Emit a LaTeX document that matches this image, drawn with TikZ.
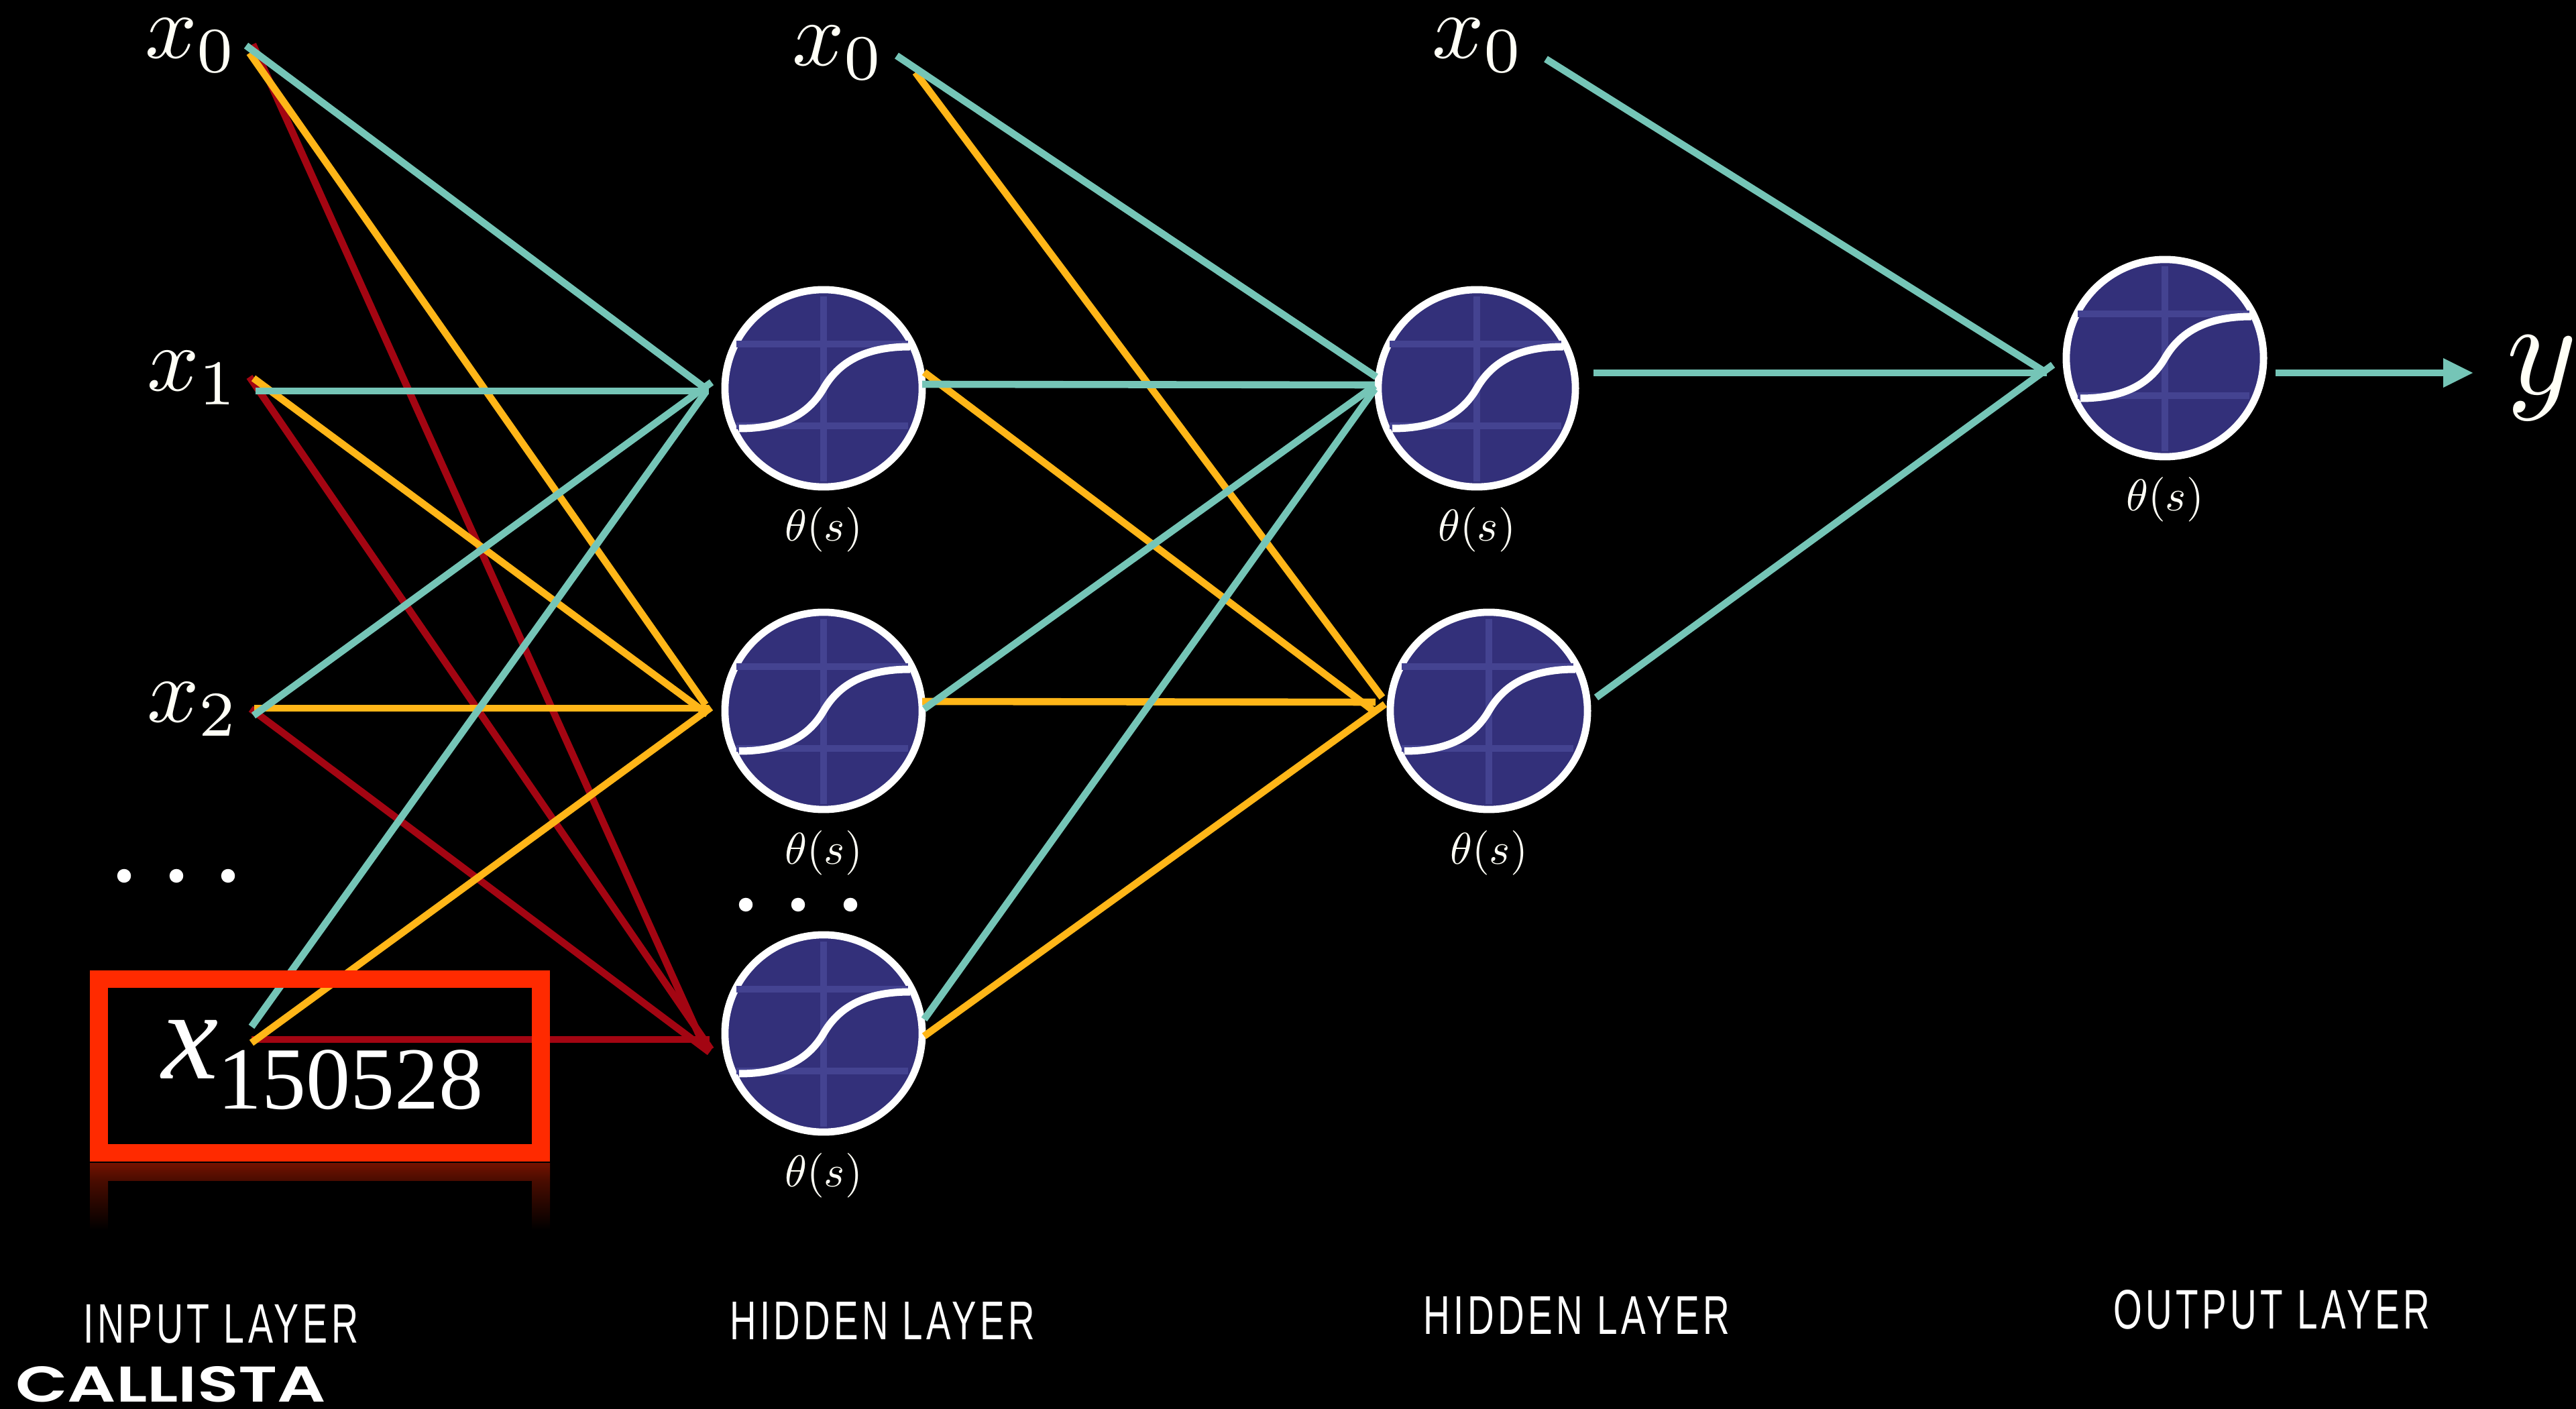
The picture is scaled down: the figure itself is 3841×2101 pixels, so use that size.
\documentclass[tikz,border=0pt]{standalone}
\usepackage{graphicx}
\usepackage[no-math]{fontspec}
\newfontfamily\timesf{Liberation Serif}
\newfontfamily\layerf[LetterSpace=10]{Liberation Sans}
\newfontfamily\brandf{Poppins SemiBold}
\definecolor{teal}{HTML}{75C5B7}
\definecolor{amber}{HTML}{FFB618}
\definecolor{wine}{HTML}{A30512}
\definecolor{boxred}{HTML}{FF2A00}
\definecolor{cellfill}{HTML}{33307A}
\definecolor{cellgrid}{HTML}{444391}
\definecolor{ivory}{HTML}{FFFFF6}
\definecolor{glowa}{HTML}{741200}
\definecolor{glowb}{HTML}{4A0C00}
\tikzset{
  conn/.style={line width=1.06mm},
  tealc/.style={conn,draw=teal},
  amberc/.style={conn,draw=amber},
  winec/.style={conn,draw=wine},
  cell/.style={circle,draw=white,fill=cellfill,line width=1.08mm,minimum size=2.94cm,inner sep=0pt,outer sep=0pt},
  gridl/.style={draw=cellgrid,line width=1.07mm},
  sig/.style={draw=white,line width=1.1mm},
  mathl/.style={text=ivory,inner sep=0pt,outer sep=0pt,anchor=base west},
  thetal/.style={text=ivory,inner sep=0pt,outer sep=0pt,anchor=base},
  layerl/.style={text=white,inner sep=0pt,outer sep=0pt,anchor=south west},
  dotn/.style={circle,fill=white,inner sep=0pt,outer sep=0pt,minimum size=0.205cm},
}
\newcommand{\neuron}[3]{%
  \node[cell] (#1) at (#2,#3) {};
  \begin{scope}[shift={(#2,#3)}]
    \draw[gridl] (-130,-66) -- (126,-66);
    \draw[gridl] (-130,56) -- (126,56);
    \draw[gridl] (0,-137) -- (0,139);
    \draw[sig] (-126,60) .. controls (-60,60) and (-22,38) .. (0,0)
               .. controls (22,-38) and (60,-62) .. (129,-62);
  \end{scope}
  \node[thetal] (#1t) at (#2,#3+228) {\scalebox{1.89}{$\theta(s)$}};
}
\newcommand{\layerlabel}[6]{% name, x, baseline, w, h, text
  \node[layerl] (#1) at (#2,#3) {\resizebox{#4}{#5}{\layerf #6}};
}
\begin{document}
\begin{tikzpicture}[x=0.01cm,y=-0.01cm]
\useasboundingbox (0,0) rectangle (3841,2101);
\fill[black] (0,0) rectangle (3841,2101);

% neurons
\neuron{na}{1228}{579}
\neuron{nb}{1228}{1060}
\neuron{nc}{1228}{1541}
\neuron{ha}{2202}{579}
\neuron{hb}{2220}{1060}
\neuron{oa}{3228}{534}

% connector ends
\coordinate (ix0t) at (367,68);   \coordinate (ix0y) at (372,79);   \coordinate (ix0r) at (377,66);
\coordinate (ix1t) at (381,583);  \coordinate (ix1y) at (378,564);  \coordinate (ix1r) at (372,562);
\coordinate (ix2t) at (378,1067); \coordinate (ix2y) at (379,1056); \coordinate (ix2r) at (374,1057);
\coordinate (ixnt) at (375,1531); \coordinate (ixny) at (375,1555); \coordinate (ixnr) at (375,1550);
\coordinate (nax0t) at (1053,580); \coordinate (nax1t) at (1057,583); \coordinate (nax2t) at (1061,570); \coordinate (naxnt) at (1052,585);
\coordinate (nbx0y) at (1052,1051); \coordinate (nbx1y) at (1055,1065); \coordinate (nbx2y) at (1057,1056); \coordinate (nbxny) at (1060,1055);
\coordinate (ncx0r) at (1052,1565); \coordinate (ncx1r) at (1060,1565); \coordinate (ncx2r) at (1058,1569); \coordinate (ncxnr) at (1058,1550);
\coordinate (mx0t) at (1337,83);  \coordinate (mx0y) at (1365,108);
\coordinate (naot) at (1375,573); \coordinate (naoy) at (1378,555);
\coordinate (nbot) at (1378,1057);\coordinate (nboy) at (1375,1046);
\coordinate (ncot) at (1378,1520);\coordinate (ncoy) at (1378,1545);
\coordinate (hax0) at (2052,562); \coordinate (haa) at (2050,574); \coordinate (hab) at (2050,575); \coordinate (hac) at (2050,580);
\coordinate (hbx0) at (2061,1040);\coordinate (hba) at (2052,1063); \coordinate (hbb) at (2051,1047); \coordinate (hbc) at (2065,1050);
\coordinate (rx0t) at (2305,88);
\coordinate (haot) at (2376,556); \coordinate (hbot) at (2380,1040);
\coordinate (oax0) at (3045,552); \coordinate (oaa) at (3052,556); \coordinate (oab) at (3061,544);
\coordinate (oaot) at (3393,556); \coordinate (oatb) at (3643,556);

% connectors: wine, amber, teal in stacking order
\draw[winec] (ix0r) -- (ncx0r);
\draw[winec] (ix1r) -- (ncx1r);
\draw[winec] (ix2r) -- (ncx2r);
\draw[winec] (ixnr) -- (ncxnr);
\draw[amberc] (ix0y) -- (nbx0y);
\draw[amberc] (ix1y) -- (nbx1y);
\draw[amberc] (ix2y) -- (nbx2y);
\draw[amberc] (ixny) -- (nbxny);
\draw[amberc] (mx0y) -- (hbx0);
\draw[amberc] (naoy) -- (hba);
\draw[amberc] (nboy) -- (hbb);
\draw[amberc] (ncoy) -- (hbc);
\draw[tealc] (ix0t) -- (nax0t);
\draw[tealc] (ix1t) -- (nax1t);
\draw[tealc] (ix2t) -- (nax2t);
\draw[tealc] (ixnt) -- (naxnt);
\draw[tealc] (mx0t) -- (hax0);
\draw[tealc] (naot) -- (haa);
\draw[tealc] (nbot) -- (hab);
\draw[tealc] (ncot) -- (hac);
\draw[tealc] (rx0t) -- (oax0);
\draw[tealc] (haot) -- (oaa);
\draw[tealc] (hbot) -- (oab);
\draw[tealc] (oaot) -- (oatb);
\fill[teal] (3643,534) -- (3687,556) -- (3643,578) -- cycle;

% highlight box with reflection
\draw[boxred,line width=0.265cm] (147.5,1460) rectangle (806.5,1719);
\shade[top color=glowa,bottom color=glowb] (134,1734) rectangle (820,1760);
\shade[top color=glowb,bottom color=black] (134,1760) rectangle (161,1834);
\shade[top color=glowb,bottom color=black] (793,1760) rectangle (820,1834);

% input labels
\node[mathl] (lx0) at (216,87) {\scalebox{3.87}{$x_0$}};
\node[mathl] (lx1) at (219,583) {\scalebox{3.87}{$x_1$}};
\node[mathl] (lx2) at (219,1077) {\scalebox{3.87}{$x_2$}};
\node[mathl] (lm0) at (1181,98) {\scalebox{3.87}{$x_0$}};
\node[mathl] (lr0) at (2135,87) {\scalebox{3.87}{$x_0$}};
\node[mathl,text=white] (lxn) at (241,1608) {\fontsize{54}{60}\selectfont\timesf\itshape x};
\node[mathl,text=white] (lxs) at (324,1653) {\fontsize{37.6}{40}\selectfont\timesf 150528};
\node[mathl] (ly) at (3737,588) {\scalebox{5.7}{$y$}};

% ellipses
\node[dotn] (da) at (185,1306) {};
\node[dotn] (db) at (263,1306) {};
\node[dotn] (dc) at (340,1306) {};
\node[dotn] (dd) at (1112,1349) {};
\node[dotn] (de) at (1190,1349) {};
\node[dotn] (df) at (1268,1349) {};

% layer names
\layerlabel{linp}{124}{2003}{4.10cm}{0.57cm}{INPUT LAYER}
\layerlabel{lhid}{1088}{1997}{4.55cm}{0.56cm}{HIDDEN LAYER}
\layerlabel{lhie}{2122}{1989}{4.57cm}{0.56cm}{HIDDEN LAYER}
\layerlabel{lout}{3151}{1982}{4.72cm}{0.58cm}{OUTPUT LAYER}
\node[layerl] (brand) at (23,2091) {\resizebox{4.63cm}{0.53cm}{\brandf CALLISTA}};
\end{tikzpicture}
\end{document}
